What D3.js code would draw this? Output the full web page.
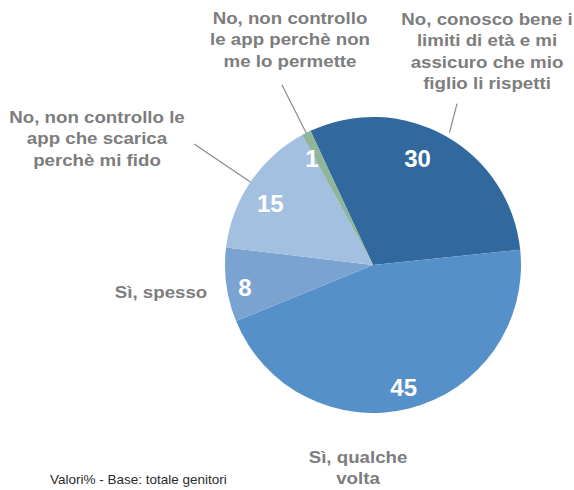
<!DOCTYPE html>
<html>
<head>
    <meta charset="utf-8">
    <script src="https://d3js.org/d3.v7.min.js"></script>
    <style>
        body { margin: 0; background: white; }
        .cat { font-family: "Liberation Sans", Arial, sans-serif; font-weight: bold; font-size: 17px; fill: #7d7d7d; }
        .val { font-family: "Liberation Sans", Arial, sans-serif; font-weight: bold; font-size: 24px; fill: white; }
        .note { font-family: "Liberation Sans", Arial, sans-serif; font-size: 13.5px; fill: #2b2b2b; }
        .leader { stroke: #8a8a8a; stroke-width: 1.2px; fill: none; }
    </style>
</head>
<body>
<script>
    // data, clockwise from the top-left
    let categories = [
        "No, conosco bene i limiti di età e mi assicuro che mio figlio li rispetti",
        "Sì, qualche volta",
        "Sì, spesso",
        "No, non controllo le app che scarica perchè mi fido",
        "No, non controllo le app perchè non me lo permette"
    ];
    let values = [30, 45, 8, 15, 1];
    let colors = ["#31699f", "#5690c9", "#7aa3d1", "#a3c0e0", "#8fb69a"];
    let labelLines = [
        ["No, conosco bene i", "limiti di età e mi", "assicuro che mio", "figlio li rispetti"],
        ["Sì, qualche", "volta"],
        ["Sì, spesso"],
        ["No, non controllo le", "app che scarica", "perchè mi fido"],
        ["No, non controllo", "le app perchè non", "me lo permette"]
    ];
    let note = "Valori% - Base: totale genitori";

    // layout only
    let width = 574, height = 490;
    let cx = 373, cy = 265, R = 148;
    let startDeg = -25;
    let labelPos = [
        {x: 487, y: 25}, {x: 358, y: 463}, {x: 161, y: 298}, {x: 97, y: 123}, {x: 290, y: 24}
    ];
    let valueNudge = [-7, 0, -2, -3, -3];       // degrees
    let valueR = [116, 126, 130, 120, 123];
    let leaders = [
        {a0: 30, r0: R + 5, a1: 27.5, r1: 182},
        null, null,
        {da: 0, r0: R, r1: 216},
        {da: 0, r0: R, r1: 202}
    ];
    let lineH = 21.5;

    let rad = d => d * Math.PI / 180;

    let svg = d3.select("body").append("svg")
        .attr("width", width)
        .attr("height", height);

    let pie = d3.pie().sort(null)
        .startAngle(rad(startDeg))
        .endAngle(rad(startDeg) + 2 * Math.PI);
    let arcs = pie(values);

    let arc = d3.arc().innerRadius(0).outerRadius(R);

    let g = svg.append("g").attr("transform", "translate(" + cx + "," + cy + ")");

    g.selectAll("path.slice")
        .data(arcs)
        .join("path")
        .attr("class", "slice")
        .attr("d", arc)
        .attr("fill", (d, i) => colors[i]);

    // leader lines
    arcs.forEach((d, i) => {
        let L = leaders[i];
        if (!L) return;
        let mid = (d.startAngle + d.endAngle) / 2;
        let a0 = L.a0 !== undefined ? rad(L.a0) : mid + rad(L.da);
        let a1 = L.a1 !== undefined ? rad(L.a1) : mid + rad(L.da);
        let p0 = d3.pointRadial(a0, L.r0), p1 = d3.pointRadial(a1, L.r1);
        g.append("line").attr("class", "leader")
            .attr("x1", p0[0]).attr("y1", p0[1])
            .attr("x2", p1[0]).attr("y2", p1[1]);
    });

    // values inside slices
    g.selectAll("text.val")
        .data(arcs)
        .join("text")
        .attr("class", "val")
        .attr("text-anchor", "middle")
        .attr("dy", "0.36em")
        .attr("transform", (d, i) => {
            let p = d3.pointRadial((d.startAngle + d.endAngle) / 2 + rad(valueNudge[i]), valueR[i]);
            return "translate(" + p[0] + "," + p[1] + ")";
        })
        .text(d => d.data);

    // category labels
    labelLines.forEach((lines, i) => {
        let t = svg.append("text")
            .attr("class", "cat")
            .attr("text-anchor", "middle")
            .attr("transform", "translate(" + labelPos[i].x + "," + labelPos[i].y + ") scale(1.1,1)")
            .attr("aria-label", categories[i]);
        lines.forEach((s, j) => {
            t.append("tspan").attr("x", 0).attr("y", j * lineH).text(s);
        });
    });

    svg.append("text")
        .attr("class", "note")
        .attr("x", 50)
        .attr("y", 484)
        .text(note);
</script>
</body>
</html>
